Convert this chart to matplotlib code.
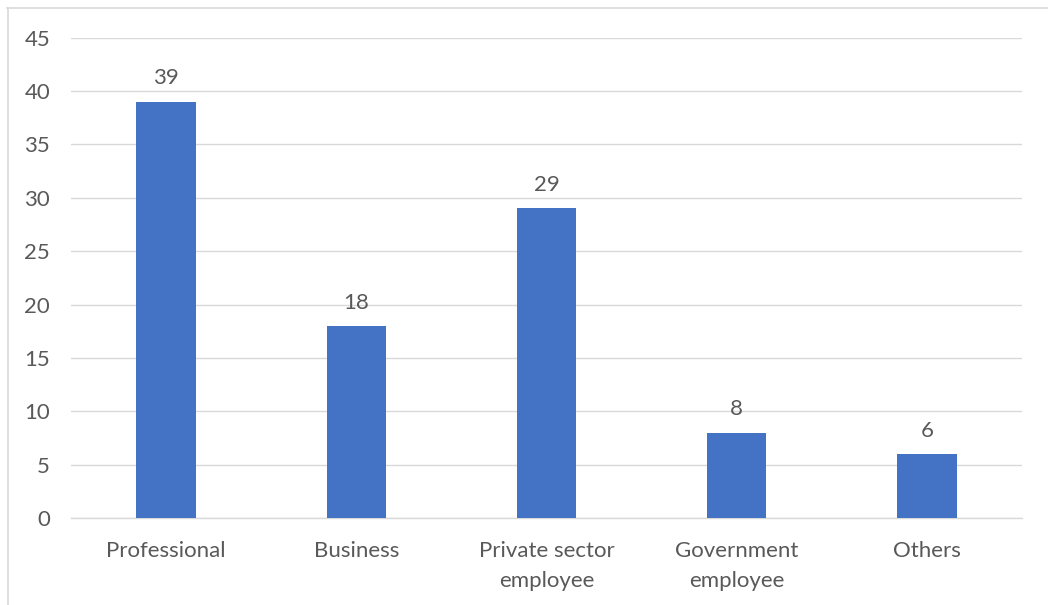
import matplotlib
matplotlib.use("Agg")
import matplotlib.pyplot as plt
from matplotlib.lines import Line2D

categories = ["Professional", "Business", "Private sector\nemployee", "Government\nemployee", "Others"]
values = [39, 18, 29, 8, 6]
y_ticks = [0, 5, 10, 15, 20, 25, 30, 35, 40, 45]

plt.rcParams["font.family"] = ["Lato", "DejaVu Sans"]
TEXT = "#595959"
GRID = "#d9d9d9"
BAR = "#4472C4"
FS = 16

W, H = 1048, 605
fig = plt.figure(figsize=(W / 100, H / 100), dpi=100)
ax = fig.add_axes([71 / W, 1 - 518.3 / H, (1022 - 71) / W, (518.3 - 37.5) / H])

x = list(range(len(categories)))
ax.bar(x, values, width=0.313, color=BAR, zorder=3)

for xi, v in zip(x, values):
    ax.annotate(str(v), (xi, v), xytext=(0, 12.5), textcoords="offset points",
                ha="center", va="baseline", fontsize=FS, color=TEXT)

ax.set_xlim(-0.5, len(categories) - 0.5)
ax.set_ylim(0, 45)
ax.set_yticks(y_ticks)
ax.set_xticks(x)
ax.set_xticklabels(categories, linespacing=1.6)
ax.tick_params(axis="both", length=0, labelsize=FS, labelcolor=TEXT)
ax.tick_params(axis="y", pad=15)
ax.tick_params(axis="x", pad=16.5)
ax.grid(axis="y", color=GRID, linewidth=1.0, zorder=0)
for s in ["top", "right", "left"]:
    ax.spines[s].set_visible(False)
ax.spines["bottom"].set_color(GRID)
ax.spines["bottom"].set_linewidth(1.0)

# light frame along the top and left edges
fig.add_artist(Line2D([7 / W, 1], [1 - 7.5 / H, 1 - 7.5 / H], transform=fig.transFigure,
                      color=GRID, linewidth=1.2))
fig.add_artist(Line2D([7.5 / W, 7.5 / W], [0, 1 - 7.5 / H], transform=fig.transFigure,
                      color=GRID, linewidth=1.2))

fig.savefig("out.png", dpi=100, facecolor="white")
